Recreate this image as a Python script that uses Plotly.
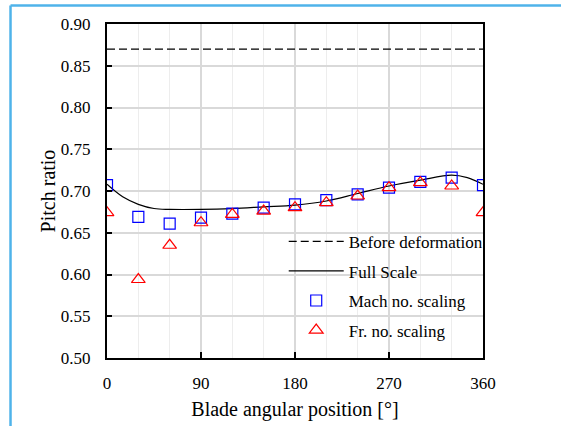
import plotly.graph_objects as go

# ---- data ----
angles = [0, 30, 60, 90, 120, 150, 180, 210, 240, 270, 300, 330, 360]
mach_scaling = [0.707, 0.669, 0.661, 0.668, 0.673, 0.680, 0.684, 0.689, 0.696, 0.704, 0.711, 0.716, 0.707]
fr_scaling = [0.674, 0.594, 0.635, 0.662, 0.672, 0.676, 0.680, 0.686, 0.694, 0.704, 0.710, 0.706, 0.674]

full_angles = [0, 15, 30, 45, 60, 90, 120, 150, 180, 210, 240, 270, 300, 330, 345, 360]
full_scale = [0.708, 0.693, 0.684, 0.679, 0.678, 0.678, 0.679, 0.681, 0.683, 0.688, 0.697, 0.706, 0.713, 0.719, 0.716, 0.708]

before_angles = [0, 360]
before_deformation = [0.87, 0.87]

x_ticks = [0, 90, 180, 270, 360]
y_ticks = [0.50, 0.55, 0.60, 0.65, 0.70, 0.75, 0.80, 0.85, 0.90]

FONT = "Liberation Serif, Times New Roman, serif"
X_RANGE = [0, 360]
Y_RANGE = [0.5, 0.9]

fig = go.Figure()
fig.add_trace(go.Scatter(
    x=before_angles, y=before_deformation, mode="lines", name="Before deformation",
    legendgroup="a", line=dict(color="black", width=1.2, dash="8px,4px")))
fig.add_trace(go.Scatter(
    x=full_angles, y=full_scale, mode="lines", name="Full Scale",
    legendgroup="b", line=dict(color="black", width=1.2, shape="spline", smoothing=1.0)))
fig.add_trace(go.Scatter(
    x=angles, y=mach_scaling, mode="markers", name="Mach no. scaling",
    legendgroup="c",
    marker=dict(symbol="square-open", size=11, color="#0000ff", line=dict(width=1.2))))
fig.add_trace(go.Scatter(
    x=angles, y=fr_scaling, mode="markers", name="Fr. no. scaling",
    legendgroup="d",
    marker=dict(symbol="triangle-up-open", size=12, color="#ff0000", line=dict(width=1.2))))
# helper (invisible) trace carrying the overlay axes that draw the inside tick marks
fig.add_trace(go.Scatter(
    x=before_angles, y=before_deformation, xaxis="x2", yaxis="y2", mode="lines",
    opacity=0, showlegend=False, hoverinfo="skip", line=dict(width=0)))

fig.update_layout(
    width=561, height=426,
    margin=dict(l=107, r=78, t=24, b=68),
    paper_bgcolor="white", plot_bgcolor="white",
    font=dict(family=FONT, size=17, color="black"),
    showlegend=True,
    legend=dict(x=0.47, y=0.402, xanchor="left", yanchor="top",
                bgcolor="rgba(0,0,0,0)", font=dict(family=FONT, size=17),
                itemwidth=55, tracegroupgap=4.5, traceorder="grouped"),
    xaxis=dict(range=X_RANGE, tickvals=x_ticks, ticks="outside", ticklen=9,
               tickcolor="rgba(0,0,0,0)", automargin=False,
               showline=True, linecolor="#000000", linewidth=2, mirror=True,
               showgrid=True, gridcolor="#d9d9d9", gridwidth=1.5,
               minor=dict(dtick=30, showgrid=True, gridcolor="#ededed", gridwidth=1),
               zeroline=False,
               title=dict(text="Blade angular position [°]", standoff=10)),
    yaxis=dict(range=Y_RANGE, tickvals=y_ticks, tickformat=".2f",
               ticks="outside", ticklen=11, tickcolor="rgba(0,0,0,0)",
               automargin=False,
               showline=True, linecolor="#000000", linewidth=2, mirror=True,
               showgrid=True, gridcolor="#d9d9d9", gridwidth=1.5,
               zeroline=False,
               title=dict(text="Pitch ratio", standoff=0)),
    xaxis2=dict(overlaying="x", anchor="y", side="bottom", range=X_RANGE,
                tickvals=x_ticks, ticks="inside", ticklen=6, tickcolor="#000000",
                tickwidth=1.5, showticklabels=False, showgrid=False,
                showline=False, zeroline=False, automargin=False),
    yaxis2=dict(overlaying="y", anchor="x", side="left", range=Y_RANGE,
                tickvals=y_ticks, ticks="inside", ticklen=5, tickcolor="#000000",
                tickwidth=1.5, showticklabels=False, showgrid=False,
                showline=False, zeroline=False, automargin=False),
)

# outer light-blue frame lines (left and top edges of the cropped frame)
fig.add_shape(type="line", xref="paper", yref="paper",
              x0=-0.2566, y0=-0.3, x1=-0.2566, y1=1.0554,
              line=dict(color="#4fb3ea", width=2.5))
fig.add_shape(type="line", xref="paper", yref="paper",
              x0=-0.2566, y0=1.0554, x1=1.3, y1=1.0554,
              line=dict(color="#4fb3ea", width=2.5))

fig.write_html("out.html")
